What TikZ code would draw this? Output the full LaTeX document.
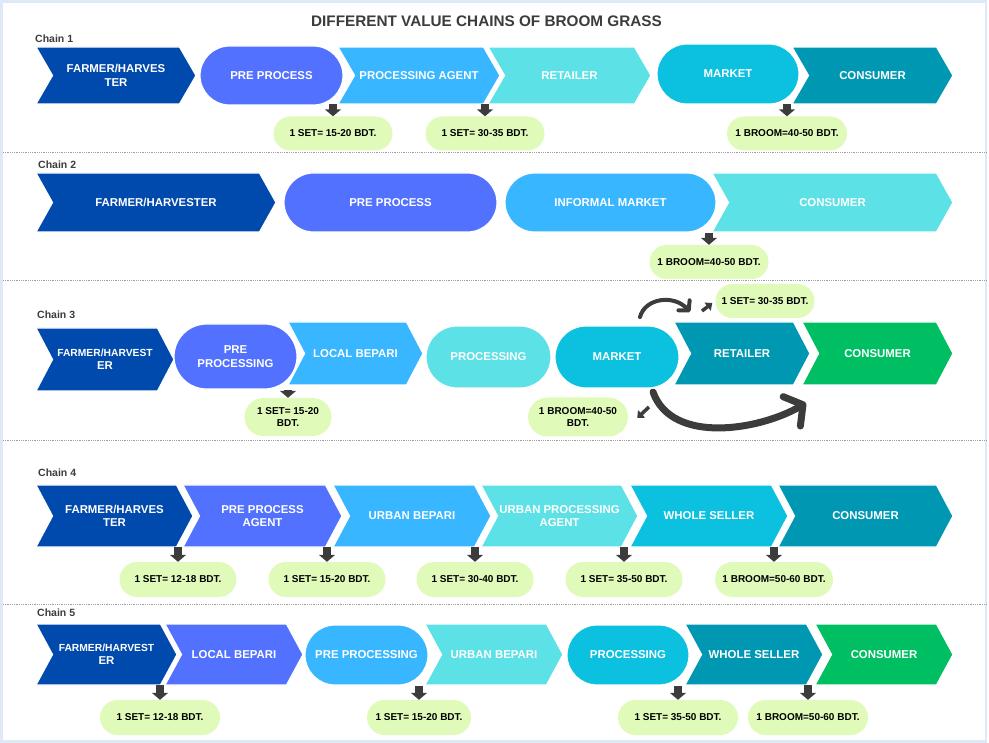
\documentclass[tikz,border=0pt]{standalone}
\usepackage{fontspec}
\setmainfont{Liberation Sans}
\usetikzlibrary{arrows.meta,shapes.misc}
\definecolor{cnavy}{HTML}{004AAD}
\definecolor{cviolet}{HTML}{5271FF}
\definecolor{csky}{HTML}{38B6FF}
\definecolor{clight}{HTML}{5CE1E6}
\definecolor{ccyan}{HTML}{0CC0DF}
\definecolor{cteal}{HTML}{0097B2}
\definecolor{cgreen}{HTML}{00BF63}
\definecolor{cprice}{HTML}{E0FBB9}
\definecolor{carrow}{HTML}{3C3C3C}
\definecolor{cframe}{HTML}{DDE9F7}
\def\chevdepth{16.5}
% chevron: name, left x, tip x, top y, bottom y, colour, label
\newcommand{\chev}[7]{%
  \filldraw[fill=#6,draw=white,line width=1.2pt] (#2,#4) -- (#3-\chevdepth,#4) -- (#3,{(#4+#5)/2}) -- (#3-\chevdepth,#5) -- (#2,#5) -- (#2+\chevdepth,{(#4+#5)/2}) -- cycle;
  \node[lbl,minimum height={#5-#4}] (#1) at ({(#2+#3)/2},{(#4+#5)/2}) {#7};}
\begin{document}
\begin{tikzpicture}[x=1pt,y=-1pt,
  lbl/.style={text=white,inner sep=0pt,align=center,font=\bfseries\fontsize{11.4}{13.5}\selectfont},
  pill/.style={lbl,rounded rectangle,draw=white,line width=1.2pt},
  price/.style={rounded rectangle,fill=cprice,inner sep=0pt,align=center,minimum height=34,font=\bfseries\fontsize{10}{12}\selectfont},
  chain/.style={anchor=west,inner sep=0pt,text=carrow,font=\bfseries\fontsize{10.5}{12}\selectfont},
  dropar/.style={carrow,line width=8pt,-{Triangle[length=7pt,width=16pt]}},
  bendy/.style={carrow,line width=4pt,line cap=round,-{Straight Barb[length=7pt,width=15pt,round]}},
  bigbend/.style={carrow,line width=7pt,line cap=round,-{Straight Barb[length=13pt,width=34pt,round]}},
  tiny/.style={carrow,line width=3.5pt,-{Triangle[length=6pt,width=10pt]}},
  sep/.style={gray!75,densely dotted,line width=.8pt}]
  \useasboundingbox (0,0) rectangle (989,743);
  \draw[cframe,line width=2.5pt] (1.5,1.5) rectangle (986,741.5);
  \node[text=carrow,inner sep=0pt,font=\bfseries\fontsize{15.3}{18}\selectfont] (ttl) at (486.5,21) {DIFFERENT VALUE CHAINS OF BROOM GRASS};
  \foreach \yy in {152,280.5,440.5,604.5} {\draw[sep] (3,\yy) -- (986,\yy);}
  % chain 1
  \node[chain] (c1) at (35,39) {Chain 1};
  \chev{f1}{36}{196}{47}{104}{cnavy}{FARMER/HARVES\\TER}
  \node[pill,fill=cviolet,minimum width=143,minimum height=59] (pp1) at (271.5,75.5) {PRE PROCESS};
  \chev{ag1}{338}{500}{47}{104}{csky}{PROCESSING AGENT}
  \chev{rt1}{488}{651}{47}{104}{clight}{RETAILER}
  \node[pill,fill=ccyan,minimum width=142,minimum height=60] (mk1) at (728,74) {MARKET};
  \chev{cn1}{792}{953}{47}{104}{cteal}{CONSUMER}
  \node[price,minimum width=119] (pa1) at (333,133.5) {1 SET= 15-20 BDT.};
  \node[price,minimum width=119] (pb1) at (485,133.5) {1 SET= 30-35 BDT.};
  \node[price,minimum width=120] (pc1) at (787,133.5) {1 BROOM=40-50 BDT.};
  \draw[dropar] (pa1.north |- ag1.south) -- (pa1.north); \draw[dropar] (pb1.north |- rt1.south) -- (pb1.north);
  \draw[dropar] (pc1.north |- cn1.south) -- (pc1.north);
  % chain 2
  \node[chain] (c2) at (38,165) {Chain 2};
  \chev{f2}{36}{276}{173}{232}{cnavy}{FARMER/HARVESTER}
  \node[pill,fill=cviolet,minimum width=213,minimum height=59] (pp2) at (390.5,202.5) {PRE PROCESS};
  \node[pill,fill=csky,minimum width=211,minimum height=59] (im2) at (610.5,202.5) {INFORMAL MARKET};
  \chev{cn2}{712}{953}{173}{232}{clight}{CONSUMER}
  \node[price,minimum width=119] (pa2) at (709,262) {1 BROOM=40-50 BDT.};
  \draw[dropar] (pa2.north |- im2.south) -- (pa2.north);
  % chain 3
  \node[chain] (c3) at (37,315) {Chain 3};
  \chev{f3}{36}{174}{328}{391}{cnavy}{\fontsize{10.3}{12.5}\selectfont FARMER/HARVEST\\ER}
  \node[pill,fill=cviolet,minimum width=123,minimum height=65] (pp3) at (235.5,356.5) {PRE\\PROCESSING};
  \chev{lb3}{288}{423}{322}{385}{csky}{LOCAL BEPARI}
  \node[pill,fill=clight,minimum width=125,minimum height=62] (pr3) at (488.5,357) {PROCESSING};
  \node[pill,fill=ccyan,minimum width=124,minimum height=62] (mk3) at (617,357) {MARKET};
  \chev{rt3}{674}{810}{322}{385}{cteal}{RETAILER}
  \chev{cn3}{802}{953}{322}{385}{cgreen}{CONSUMER}
  \node[price,minimum width=87,minimum height=38] (pa3) at (288,417) {1 SET= 15-20\\BDT.};
  \node[price,minimum width=99] (pb3) at (765,301) {1 SET= 30-35 BDT.};
  \node[price,minimum width=100,minimum height=39] (pc3) at (578,417) {1 BROOM=40-50\\BDT.};
  \draw[dropar] (pa3.north |- pp3.south) -- (pa3.north);
  \coordinate (u0) at (640,317); \coordinate (u1) at (690,312);
  \draw[bendy] (u0) .. controls (645,298) and (674,294) .. (u1);
  \coordinate (l0) at (653,392); \coordinate (l1) at (806,403);
  \draw[bigbend] (l0) .. controls (672,445) and (760,430) .. (l1);
  \coordinate (s0) at (702,311); \draw[tiny] (s0) -- ([xshift=-3pt,yshift=-2pt]pb3.west);
  \coordinate (s1) at (649,407); \draw[tiny] (s1) -- ([xshift=9pt,yshift=-1pt]pc3.east);
  % chain 4
  \node[chain] (c4) at (38,473) {Chain 4};
  \chev{f4}{36}{193}{485}{547}{cnavy}{FARMER/HARVES\\TER}
  \chev{pp4}{183}{342}{485}{547}{cviolet}{PRE PROCESS\\AGENT}
  \chev{ub4}{333}{491}{485}{547}{csky}{URBAN BEPARI}
  \chev{up4}{481}{638}{485}{547}{clight}{URBAN PROCESSING\\AGENT}
  \chev{ws4}{630}{788}{485}{547}{ccyan}{WHOLE SELLER}
  \chev{cn4}{778}{953}{485}{547}{cteal}{CONSUMER}
  \node[price,minimum width=117,minimum height=35] (pa4) at (178,579.5) {1 SET= 12-18 BDT.};
  \node[price,minimum width=117,minimum height=35] (pb4) at (327,579.5) {1 SET= 15-20 BDT.};
  \node[price,minimum width=117,minimum height=35] (pc4) at (475,579.5) {1 SET= 30-40 BDT.};
  \node[price,minimum width=117,minimum height=35] (pd4) at (624,579.5) {1 SET= 35-50 BDT.};
  \node[price,minimum width=118,minimum height=35] (pe4) at (774,579.5) {1 BROOM=50-60 BDT.};
  \draw[dropar] (pa4.north |- f4.south) -- (pa4.north); \draw[dropar] (pb4.north |- pp4.south) -- (pb4.north);
  \draw[dropar] (pc4.north |- ub4.south) -- (pc4.north); \draw[dropar] (pd4.north |- up4.south) -- (pd4.north);
  \draw[dropar] (pe4.north |- ws4.south) -- (pe4.north);
  % chain 5
  \node[chain] (c5) at (37,613) {Chain 5};
  \chev{f5}{36}{177}{624}{685}{cnavy}{\fontsize{10.3}{12.5}\selectfont FARMER/HARVEST\\ER}
  \chev{lb5}{165}{303}{624}{685}{cviolet}{LOCAL BEPARI}
  \node[pill,fill=csky,minimum width=123,minimum height=60] (pp5) at (366.5,655) {PRE PROCESSING};
  \chev{ub5}{425}{563}{624}{685}{clight}{URBAN BEPARI}
  \node[pill,fill=ccyan,minimum width=122,minimum height=60] (pr5) at (628,655) {PROCESSING};
  \chev{ws5}{685}{823}{624}{685}{cteal}{WHOLE SELLER}
  \chev{cn5}{815}{953}{624}{685}{cgreen}{CONSUMER}
  \node[price,minimum width=120,minimum height=35] (pa5) at (160,717.5) {1 SET= 12-18 BDT.};
  \node[price,minimum width=104,minimum height=35] (pb5) at (419,717.5) {1 SET= 15-20 BDT.};
  \node[price,minimum width=120,minimum height=35] (pc5) at (678,717.5) {1 SET= 35-50 BDT.};
  \node[price,minimum width=120,minimum height=35] (pd5) at (808,717.5) {1 BROOM=50-60 BDT.};
  \draw[dropar] (pa5.north |- f5.south) -- (pa5.north); \draw[dropar] (pb5.north |- pp5.south) -- (pb5.north);
  \draw[dropar] (pc5.north |- pr5.south) -- (pc5.north); \draw[dropar] (pd5.north |- ws5.south) -- (pd5.north);
\end{tikzpicture}
\end{document}
